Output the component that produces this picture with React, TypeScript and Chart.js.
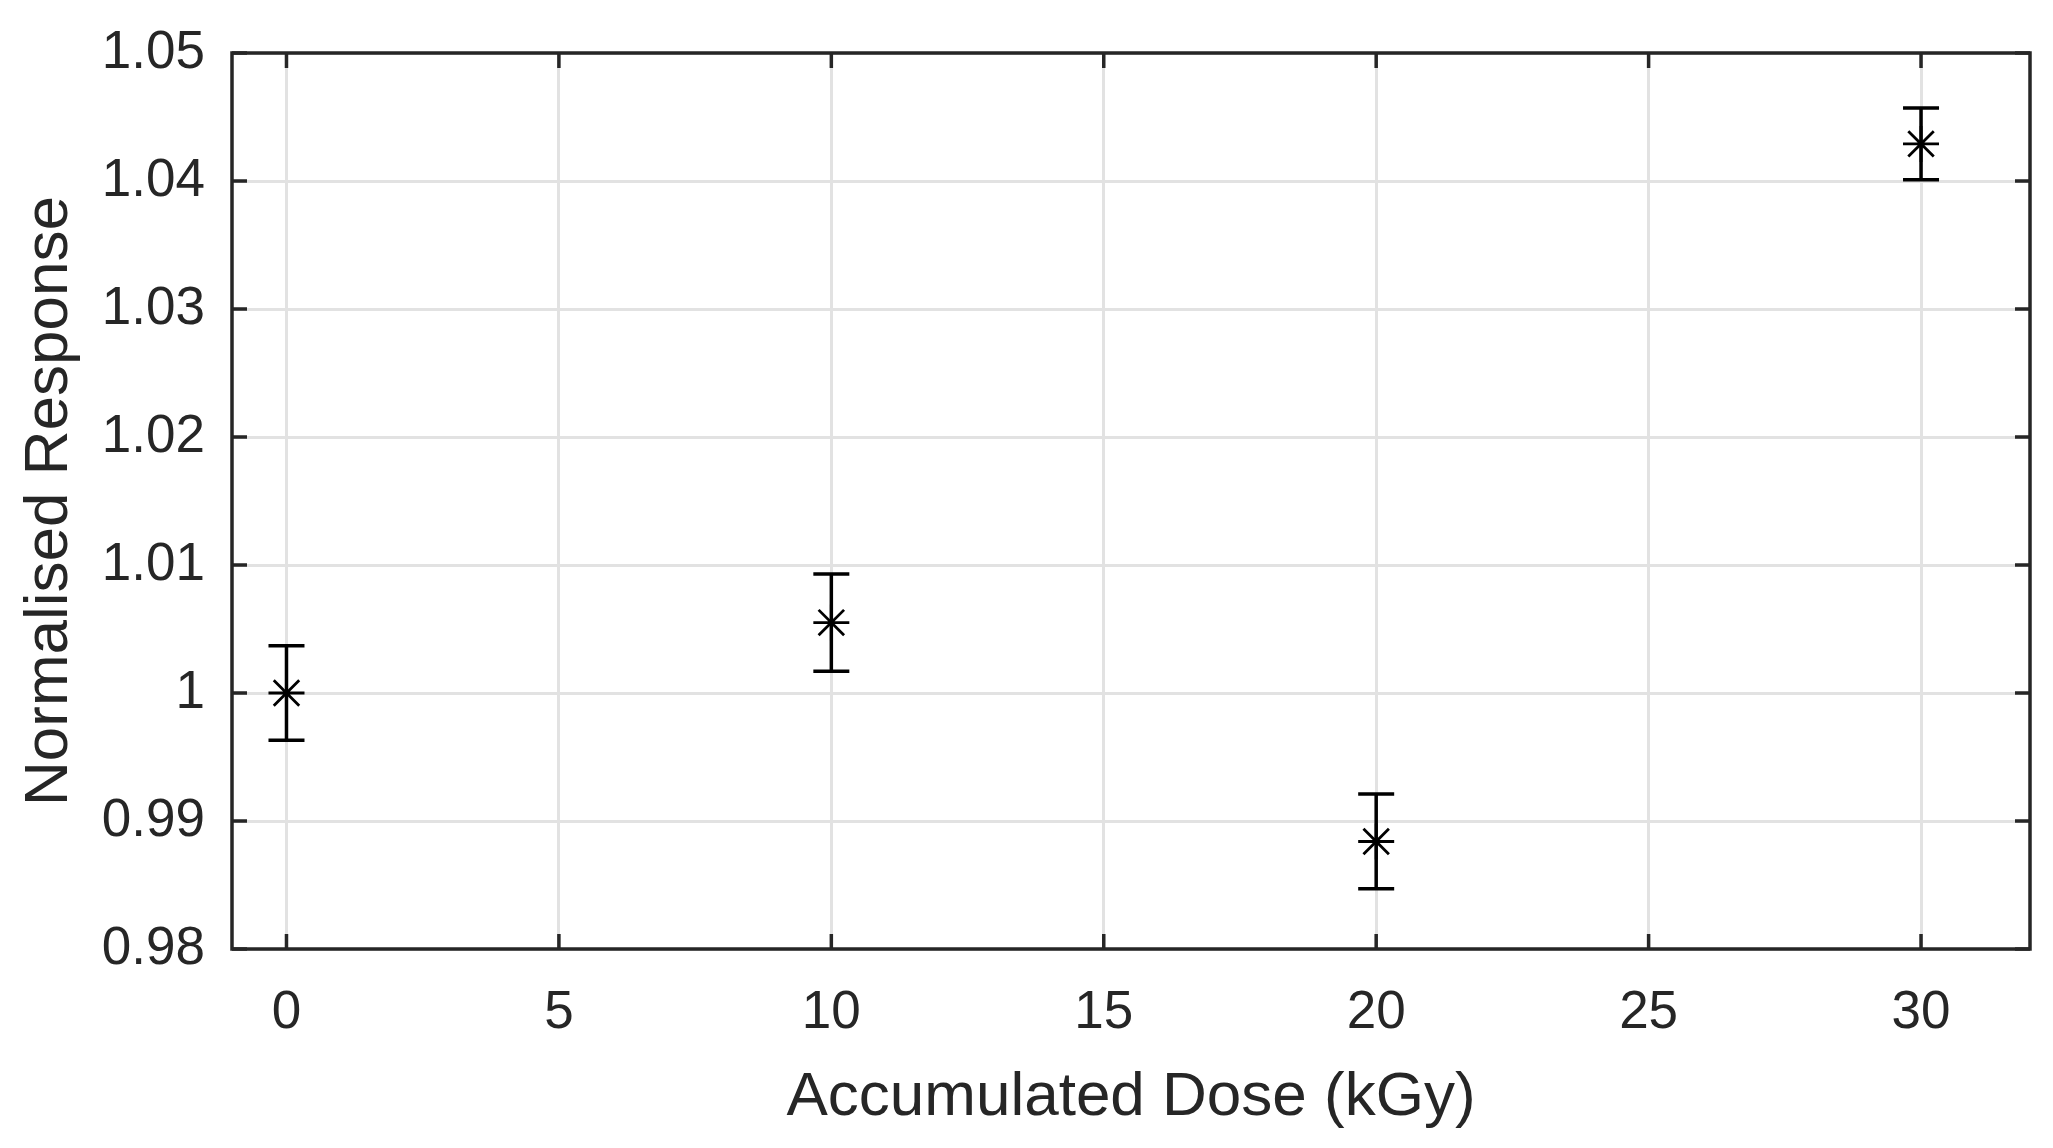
import React, { useEffect, useRef } from "react";
import { Chart, registerables } from "chart.js";

Chart.register(...registerables);

// ---- data ----
const doses = [0, 10, 20, 30];
const responses = [1.0, 1.0055, 0.9884, 1.0429];
const errors = [0.0037, 0.0038, 0.0037, 0.0028];
const xTickValues = [0, 5, 10, 15, 20, 25, 30];
const yTickValues = [0.98, 0.99, 1.0, 1.01, 1.02, 1.03, 1.04, 1.05];
const xTitle = "Accumulated Dose (kGy)";
const yTitle = "Normalised Response";

const FONT = "'Liberation Sans', Arial, Helvetica, sans-serif";
const TEXT = "#262626";
const AXIS = "#262626";
const GRID = "#e2e2e2";

const boxPlugin = {
  id: "matlabBox",
  afterDatasetsDraw(chart: any) {
    const { ctx, scales } = chart;
    const xs = scales.x;
    const ys = scales.y;
    ctx.save();
    ctx.strokeStyle = "#000";
    ctx.lineWidth = 3.5;
    const cap = 18;
    for (let i = 0; i < doses.length; i++) {
      const px = xs.getPixelForValue(doses[i]);
      const yTop = ys.getPixelForValue(responses[i] + errors[i]);
      const yBot = ys.getPixelForValue(responses[i] - errors[i]);
      ctx.beginPath();
      ctx.moveTo(px, yTop);
      ctx.lineTo(px, yBot);
      ctx.moveTo(px - cap, yTop);
      ctx.lineTo(px + cap, yTop);
      ctx.moveTo(px - cap, yBot);
      ctx.lineTo(px + cap, yBot);
      ctx.stroke();
    }
    ctx.restore();
  },
  afterDraw(chart: any) {
    const { ctx, chartArea, scales } = chart;
    const xs = scales.x;
    const ys = scales.y;
    const { left, right, top, bottom } = chartArea;
    const tl = 15;
    ctx.save();
    ctx.strokeStyle = AXIS;
    ctx.lineWidth = 3.5;
    ctx.beginPath();
    for (const v of xTickValues) {
      const px = xs.getPixelForValue(v);
      ctx.moveTo(px, bottom);
      ctx.lineTo(px, bottom - tl);
      ctx.moveTo(px, top);
      ctx.lineTo(px, top + tl);
    }
    for (const v of yTickValues) {
      const py = ys.getPixelForValue(v);
      ctx.moveTo(left, py);
      ctx.lineTo(left + tl, py);
      ctx.moveTo(right, py);
      ctx.lineTo(right - tl, py);
    }
    ctx.stroke();
    ctx.strokeRect(left, top, right - left, bottom - top);
    ctx.restore();
  },
};

export default function App() {
  const ref = useRef<HTMLCanvasElement | null>(null);

  useEffect(() => {
    document.body.style.margin = "0";
    const canvas = ref.current;
    if (!canvas) return;
    const chart = new Chart(canvas, {
      type: "scatter",
      data: {
        datasets: [
          {
            data: doses.map((d, i) => ({ x: d, y: responses[i] })),
            pointStyle: "star",
            radius: 18,
            borderColor: "#000",
            backgroundColor: "#000",
            borderWidth: 2.8,
          },
        ],
      },
      options: {
        animation: false,
        responsive: false,
        devicePixelRatio: 1,
        layout: { padding: { top: 53, right: 23, left: 0, bottom: 0 } },
        plugins: {
          legend: { display: false },
          tooltip: { enabled: false },
        },
        scales: {
          x: {
            type: "linear",
            min: -1,
            max: 32,
            afterFit(scale: any) {
              scale.height = 199;
              scale.paddingLeft = 0;
              scale.paddingRight = 0;
            },
            afterBuildTicks(scale: any) {
              scale.ticks = xTickValues.map((v) => ({ value: v }));
            },
            ticks: {
              padding: 33,
              color: TEXT,
              font: { family: FONT, size: 53 },
              maxRotation: 0,
              callback: (v: any) => String(v),
            },
            grid: { color: GRID, lineWidth: 3, drawTicks: false },
            border: { display: false },
            title: {
              display: true,
              text: xTitle,
              color: TEXT,
              font: { family: FONT, size: 62 },
              padding: { top: 0, bottom: 13 },
            },
          },
          y: {
            type: "linear",
            min: 0.98,
            max: 1.05,
            afterFit(scale: any) {
              scale.width = 232;
              scale.paddingTop = 0;
              scale.paddingBottom = 0;
            },
            afterBuildTicks(scale: any) {
              scale.ticks = yTickValues.map((v) => ({ value: v }));
            },
            ticks: {
              padding: 27,
              color: TEXT,
              font: { family: FONT, size: 53 },
              callback: (v: any) => String(Number(Number(v).toFixed(2))),
            },
            grid: { color: GRID, lineWidth: 3, drawTicks: false },
            border: { display: false },
            title: {
              display: true,
              text: yTitle,
              color: TEXT,
              font: { family: FONT, size: 62 },
              padding: { top: 13, bottom: 0 },
            },
          },
        },
      },
      plugins: [boxPlugin],
    });
    return () => chart.destroy();
  }, []);

  return (
    <div style={{ width: 2053, height: 1148, background: "#fff" }}>
      <canvas ref={ref} width={2053} height={1148} style={{ display: "block" }} />
    </div>
  );
}
